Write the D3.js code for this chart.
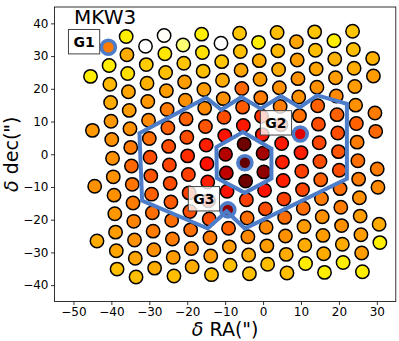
<!DOCTYPE html>
<html>
<head>
<meta charset="utf-8">
<script src="https://cdn.jsdelivr.net/npm/d3@7"></script>
<style>
	body { margin: 0; background: #fff; }
	svg { display: block; font-family: 'DejaVu Sans', sans-serif; }
</style>
</head>
<body>
<svg id="chart" width="399" height="341"></svg>
<script>
// fiber positions (arcsec), one inner array per column of the dithered bundle
const fiberX = [
	[-45.5, -45.0, -44.4, -43.8],
	[-40.8, -40.6, -40.4, -40.2, -40.1, -39.9, -39.7, -39.5, -39.3, -39.1, -38.9, -38.7, -38.5],
	[-36.1, -35.9, -35.7, -35.5, -35.3, -35.1, -34.9, -34.7, -34.5, -34.3, -34.1, -33.9, -33.7, -33.5],
	[-31.0, -30.8, -30.6, -30.4, -30.2, -30.0, -29.8, -29.6, -29.4, -29.2, -29.0, -28.8, -28.6],
	[-26.1, -25.9, -25.7, -25.5, -25.3, -25.1, -24.9, -24.7, -24.5, -24.3, -24.1, -23.9, -23.7, -23.5],
	[-21.1, -20.9, -20.7, -20.5, -20.3, -20.1, -19.9, -19.7, -19.5, -19.3, -19.1, -18.9, -18.7],
	[-16.2, -16.0, -15.8, -15.6, -15.4, -15.2, -15.0, -14.8, -14.6, -14.4, -14.2, -14.0, -13.8, -13.6],
	[-11.1, -10.9, -10.7, -10.5, -10.3, -10.1, -9.9, -9.7, -9.5, -9.3, -9.1, -8.9, -8.7],
	[-6.2, -6.0, -5.8, -5.6, -5.4, -5.2, -5.0, -4.8, -4.6, -4.4, -4.2, -4.0, -3.8, -3.6],
	[-1.2, -1.0, -0.8, -0.6, -0.4, -0.2, 0.0, 0.2, 0.4, 0.6, 0.8, 1.0, 1.2],
	[3.7, 3.9, 4.1, 4.3, 4.5, 4.7, 4.9, 5.1, 5.3, 5.5, 5.7, 5.9, 6.1, 6.3],
	[8.8, 9.0, 9.2, 9.4, 9.6, 9.8, 10.0, 10.2, 10.4, 10.6, 10.8, 11.0, 11.2],
	[13.6, 13.8, 14.0, 14.2, 14.4, 14.6, 14.8, 15.0, 15.2, 15.4, 15.6, 15.8, 16.0, 16.2],
	[18.7, 18.9, 19.1, 19.3, 19.5, 19.7, 19.9, 20.1, 20.3, 20.5, 20.7, 20.9, 21.1],
	[23.6, 23.8, 24.0, 24.2, 24.4, 24.6, 24.8, 25.0, 25.2, 25.4, 25.6, 25.8, 26.0, 26.2],
	[28.9, 29.1, 29.5, 29.7, 30.1, 30.3, 30.6, 30.8]
]
const fiberY = [
	[23.8, 7.3, -9.8, -26.5],
	[32.7, 27.1, 21.4, 15.8, 10.1, 4.5, -1.2, -6.9, -12.5, -18.2, -23.8, -29.5, -35.1],
	[36.0, 30.4, 24.7, 19.1, 13.4, 7.8, 2.1, -3.6, -9.2, -14.9, -20.5, -26.2, -31.8, -37.5],
	[33.0, 27.4, 21.7, 16.1, 10.4, 4.8, -0.9, -6.6, -12.2, -17.9, -23.5, -29.2, -34.8],
	[36.3, 30.7, 25.0, 19.4, 13.7, 8.1, 2.4, -3.3, -8.9, -14.6, -20.2, -25.9, -31.5, -37.2],
	[33.4, 27.8, 22.1, 16.5, 10.8, 5.2, -0.5, -6.2, -11.8, -17.5, -23.1, -28.8, -34.4],
	[36.7, 31.1, 25.4, 19.8, 14.1, 8.5, 2.8, -2.9, -8.5, -14.2, -19.8, -25.5, -31.1, -36.8],
	[33.9, 28.3, 22.6, 17.0, 11.3, 5.7, 0.0, -5.7, -11.3, -17.0, -22.6, -28.3, -33.9],
	[37.0, 31.4, 25.7, 20.1, 14.4, 8.8, 3.1, -2.6, -8.2, -13.9, -19.5, -25.2, -30.8, -36.5],
	[34.2, 28.6, 22.9, 17.3, 11.6, 6.0, 0.3, -5.4, -11.0, -16.7, -22.3, -28.0, -33.6],
	[37.2, 31.6, 25.9, 20.3, 14.6, 9.0, 3.3, -2.4, -8.0, -13.7, -19.3, -25.0, -30.6, -36.3],
	[34.4, 28.8, 23.1, 17.5, 11.8, 6.2, 0.5, -5.2, -10.8, -16.5, -22.1, -27.8, -33.4],
	[37.4, 31.8, 26.1, 20.5, 14.8, 9.2, 3.5, -2.2, -7.8, -13.5, -19.1, -24.8, -30.4, -36.1],
	[34.7, 29.1, 23.4, 17.8, 12.1, 6.5, 0.8, -4.9, -10.5, -16.2, -21.8, -27.5, -33.1],
	[37.6, 32.0, 26.3, 20.7, 15.0, 9.4, 3.7, -2.0, -7.6, -13.3, -18.9, -24.6, -30.2, -35.9],
	[29.3, 23.9, 12.6, 7.0, -4.5, -10.1, -21.4, -27.0]
]
// colour level of each fiber (0 = white ... 100 = black, hot_r)
const fiberLevel = [
	[28, 41, 42, 38],
	[45, 28, 36, 38, 41, 42, 42, 42, 42, 41, 40, 39, 35],
	[28, 38, 30, 39, 40, 42, 45, 48, 46, 45, 44, 42, 39, 35],
	[0, 33, 37, 41, 43, 47, 52, 51, 49, 47, 45, 42, 38],
	[1, 29, 35, 40, 45, 49, 52, 53, 52, 50, 47, 45, 40, 35],
	[14, 34, 40, 42, 49, 52, 57, 54, 54, 52, 47, 43, 38],
	[28, 30, 35, 40, 43, 51, 59, 61, 59, 56, 52, 45, 40, 35],
	[0, 34, 38, 42, 52, 61, 75, 73, 61, 80, 49, 40, 35],
	[34, 35, 39, 48, 50, 60, 85, 87, 85, 54, 47, 43, 38, 35],
	[28, 38, 40, 45, 56, 60, 77, 80, 61, 52, 43, 40, 35],
	[35, 36, 38, 42, 45, 54, 60, 59, 59, 54, 47, 42, 38, 35],
	[39, 40, 42, 42, 47, 68, 59, 54, 53, 47, 40, 38, 28],
	[34, 35, 39, 42, 49, 52, 53, 52, 49, 45, 42, 40, 38, 28],
	[28, 37, 40, 43, 49, 52, 51, 52, 47, 45, 42, 38, 28],
	[34, 35, 38, 40, 42, 49, 45, 47, 45, 42, 40, 40, 40, 28],
	[37, 40, 45, 48, 45, 43, 38, 28]
]

// circled fibers: G1, G2, G3 and the central one
const ringX = [-40.8, 9.8, -9.3, -4.8]
const ringY = [32.7, 6.2, -17.0, -2.6]

const labelText = ['G1', 'G2', 'G3']
const labelX = [-47.2, 3.4, -15.6]
const labelY = [34.4, 9.6, -13.6]

const outerX = [-32.6, -15.0, -11.0, -5.7, -0.6, 4.7, 9.7, 14.3, 22.1, 22.1, -4.8, -9.6, -14.6, -31.9]
const outerY = [6.4, 17.3, 13.6, 17.5, 13.9, 17.8, 14.3, 18.0, 15.4, -7.5, -22.7, -17.4, -22.7, -14.2]
const innerX = [-5.3, 2.2, 2.2, -4.8, -12.2, -12.3]
const innerY = [6.8, 1.7, -7.4, -11.8, -7.3, 2.2]

const xTicks = [-50, -40, -30, -20, -10, 0, 10, 20, 30]
const yTicks = [-40, -30, -20, -10, 0, 10, 20, 30, 40]
const title = 'MKW3'

const $svg = d3.select('#chart')
const blue = '#4d7cc9'

const scaleX = d3.scaleLinear()
	.domain([-55, 35])
	.range([54.5, 395.8])
const scaleY = d3.scaleLinear()
	.domain([-45, 45])
	.range([301.5, 7])

// matplotlib hot_r, piecewise linear
const hotR = d3.scaleLinear()
	.domain([0, 25.4, 63.5, 100])
	.range(['#ffffff', '#ffff00', '#ff0000', '#0b0000'])
	.clamp(true)

const fibers = d3.merge(fiberX.map((xs, c) => xs.map((x, k) => {
	return { x, y: fiberY[c][k], v: fiberLevel[c][k] }
})))

$svg.append('g')
	.selectAll('circle')
	.data(fibers)
	.join('circle')
	.attr('cx', d => scaleX(d.x))
	.attr('cy', d => scaleY(d.y))
	.attr('r', 6.7)
	.attr('fill', d => hotR(d.v))
	.attr('stroke', '#000')
	.attr('stroke-width', 1.5)

$svg.append('g')
	.selectAll('circle')
	.data(ringX)
	.join('circle')
	.attr('cx', d => scaleX(d))
	.attr('cy', (d, i) => scaleY(ringY[i]))
	.attr('r', 7)
	.attr('fill', 'none')
	.attr('stroke', blue)
	.attr('stroke-width', 3.6)

const drawLine = d3.line()
	.x(d => scaleX(d[0]))
	.y(d => scaleY(d[1]))
	.curve(d3.curveLinearClosed)

const createPath = (xs, ys) => {
	return $svg.append('path')
		.attr('d', drawLine(xs.map((x, i) => [x, ys[i]])))
		.attr('fill', 'none')
		.attr('stroke', blue)
		.attr('stroke-width', 4)
		.attr('stroke-linejoin', 'miter')
}
createPath(outerX, outerY)
createPath(innerX, innerY)

// labelled boxes
labelText.forEach((t, i) => {
	const $g = $svg.append('g')
	const cx = scaleX(labelX[i])
	const cy = scaleY(labelY[i])
	const $t = $g.append('text')
		.attr('x', cx)
		.attr('y', cy + 5)
		.attr('text-anchor', 'middle')
		.attr('font-size', 14)
		.attr('font-weight', 'bold')
		.text(t)
	const b = $t.node().getBBox()
	$g.insert('rect', 'text')
		.attr('x', b.x - 5)
		.attr('y', cy - 12.2)
		.attr('width', b.width + 10)
		.attr('height', 24.4)
		.attr('fill', '#fff')
		.attr('fill-opacity', 0.8)
		.attr('stroke', '#444')
		.attr('stroke-width', 1)
})

// axes
const styleAxis = $g => {
	$g.select('.domain').remove()
	$g.selectAll('.tick line').attr('stroke', '#000').attr('stroke-width', 0.8)
	$g.selectAll('.tick text').attr('fill', '#000')
	$g.attr('font-size', 12).attr('font-family', 'DejaVu Sans, sans-serif')
}
$svg.append('g')
	.attr('transform', `translate(0,${scaleY(-45)})`)
	.call(d3.axisBottom(scaleX).tickValues(xTicks).tickSize(3.5).tickPadding(2))
	.call(styleAxis)
$svg.append('g')
	.attr('transform', `translate(${scaleX(-55)},0)`)
	.call(d3.axisLeft(scaleY).tickValues(yTicks).tickSize(3.5).tickPadding(2.5))
	.call(styleAxis)

$svg.append('rect')
	.attr('x', scaleX(-55))
	.attr('y', scaleY(45))
	.attr('width', scaleX(35) - scaleX(-55))
	.attr('height', scaleY(-45) - scaleY(45))
	.attr('fill', 'none')
	.attr('stroke', '#000')
	.attr('stroke-width', 0.8)

$svg.append('text')
	.attr('x', 74)
	.attr('y', 23.5)
	.attr('font-size', 20)
	.text(title)

const xLabel = $svg.append('text')
	.attr('x', (scaleX(-55) + scaleX(35)) / 2)
	.attr('y', 336)
	.attr('text-anchor', 'middle')
	.attr('font-size', 19)
xLabel.append('tspan').attr('font-style', 'italic').text('δ')
xLabel.append('tspan').text(' RA(")')

const yLabel = $svg.append('text')
	.attr('transform', `translate(18,${(scaleY(45) + scaleY(-45)) / 2}) rotate(-90)`)
	.attr('text-anchor', 'middle')
	.attr('font-size', 19)
yLabel.append('tspan').attr('font-style', 'italic').text('δ')
yLabel.append('tspan').text(' dec(")')
</script>
</body>
</html>
